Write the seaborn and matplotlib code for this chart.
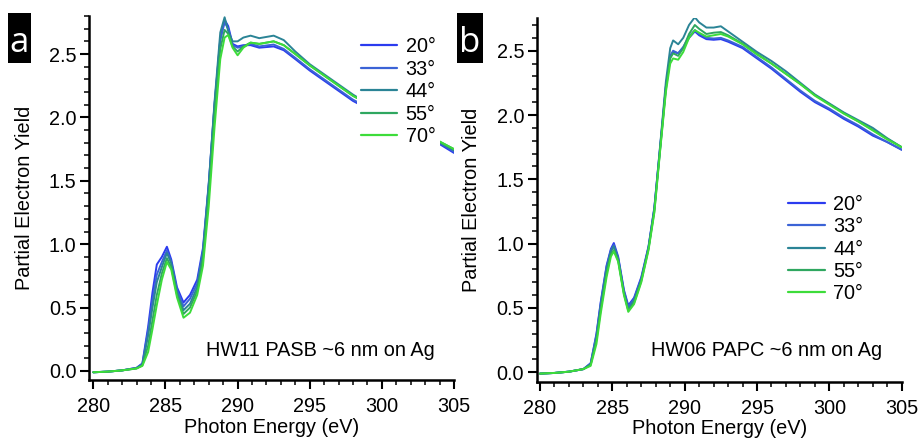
import matplotlib
matplotlib.use("Agg")
import matplotlib.pyplot as plt
import pandas as pd
import seaborn as sns
from matplotlib.patches import Rectangle
from matplotlib.ticker import MultipleLocator, FormatStrFormatter

# Polar angles of the incident beam and the trace colour for each
angles = ["20°", "33°", "44°", "55°", "70°"]
colors = ["#2b3bef", "#3b63d6", "#2b8496", "#2fa760", "#3ddc3a"]

# ---- Panel a: HW11 PASB, C K-edge NEXAFS ----
energy_a = [280, 281, 282, 283, 283.4, 283.8, 284.1, 284.4, 284.75, 285.1,
            285.4, 285.8, 286.25, 286.7, 287.2, 287.6, 288.0, 288.4, 288.8, 289.1,
            289.35, 289.65, 290.0, 290.4, 290.9, 291.5, 292.5, 293.2, 294.0, 295.0,
            296.0, 297.0, 298.0, 299.0, 300.0, 301.0, 302.0, 303.0, 304.0, 305.0]
pasb_20 = [-0.01, -0.005, 0.005, 0.025, 0.06, 0.35, 0.62, 0.84, 0.90, 0.98,
           0.88, 0.66, 0.54, 0.60, 0.72, 0.97, 1.48, 2.10, 2.62, 2.77,
           2.72, 2.58, 2.56, 2.57, 2.57, 2.55, 2.56, 2.53, 2.46, 2.37,
           2.29, 2.21, 2.13, 2.07, 2.02, 1.96, 1.91, 1.85, 1.79, 1.72]
pasb_33 = [-0.01, -0.005, 0.005, 0.025, 0.055, 0.32, 0.56, 0.76, 0.86, 0.95,
           0.86, 0.64, 0.51, 0.57, 0.69, 0.95, 1.46, 2.09, 2.61, 2.75,
           2.70, 2.57, 2.55, 2.56, 2.58, 2.56, 2.575, 2.54, 2.47, 2.38,
           2.30, 2.22, 2.14, 2.08, 2.03, 1.97, 1.92, 1.86, 1.80, 1.73]
pasb_44 = [-0.01, -0.005, 0.005, 0.022, 0.05, 0.28, 0.50, 0.70, 0.82, 0.93,
           0.85, 0.62, 0.48, 0.53, 0.66, 0.93, 1.47, 2.12, 2.67, 2.79,
           2.68, 2.60, 2.60, 2.63, 2.645, 2.625, 2.645, 2.61, 2.52, 2.42,
           2.34, 2.26, 2.18, 2.11, 2.05, 1.99, 1.93, 1.87, 1.80, 1.74]
pasb_55 = [-0.01, -0.005, 0.005, 0.02, 0.045, 0.20, 0.40, 0.60, 0.77, 0.89,
           0.82, 0.60, 0.45, 0.50, 0.63, 0.88, 1.38, 2.01, 2.54, 2.69,
           2.66, 2.56, 2.52, 2.56, 2.59, 2.58, 2.60, 2.57, 2.50, 2.41,
           2.33, 2.25, 2.17, 2.11, 2.05, 1.99, 1.93, 1.87, 1.81, 1.75]
pasb_70 = [-0.01, -0.005, 0.005, 0.02, 0.04, 0.15, 0.33, 0.52, 0.72, 0.86,
           0.80, 0.58, 0.42, 0.46, 0.60, 0.83, 1.30, 1.92, 2.46, 2.63,
           2.65, 2.55, 2.49, 2.55, 2.59, 2.58, 2.60, 2.57, 2.50, 2.41,
           2.33, 2.25, 2.17, 2.11, 2.05, 1.99, 1.93, 1.87, 1.81, 1.75]

# ---- Panel b: HW06 PAPC, C K-edge NEXAFS ----
energy_b = [280, 281, 282, 283, 283.5, 283.9, 284.2, 284.6, 284.9, 285.1,
            285.4, 285.8, 286.1, 286.5, 287.0, 287.5, 287.9, 288.3, 288.7, 289.0,
            289.2, 289.55, 289.9, 290.3, 290.7, 291.0, 291.5, 292.0, 292.5, 293.0,
            294.0, 295.0, 296.0, 297.0, 298.0, 299.0, 300.0, 301.0, 302.0, 303.0,
            304.0, 305.0]
papc_20 = [-0.01, -0.005, 0.005, 0.025, 0.07, 0.30, 0.55, 0.83, 0.96, 1.005,
           0.90, 0.64, 0.52, 0.58, 0.74, 0.98, 1.28, 1.75, 2.22, 2.45,
           2.49, 2.48, 2.52, 2.60, 2.65, 2.62, 2.59, 2.585, 2.59, 2.57,
           2.52, 2.44, 2.36, 2.27, 2.18, 2.10, 2.04, 1.97, 1.91, 1.84,
           1.79, 1.73]
papc_33 = [-0.01, -0.005, 0.005, 0.025, 0.07, 0.29, 0.54, 0.82, 0.95, 0.99,
           0.89, 0.63, 0.51, 0.57, 0.73, 0.97, 1.27, 1.74, 2.22, 2.46,
           2.50, 2.48, 2.53, 2.61, 2.66, 2.63, 2.60, 2.595, 2.60, 2.58,
           2.53, 2.45, 2.37, 2.28, 2.19, 2.11, 2.05, 1.98, 1.92, 1.85,
           1.79, 1.73]
papc_44 = [-0.01, -0.005, 0.005, 0.025, 0.06, 0.27, 0.52, 0.80, 0.94, 0.98,
           0.88, 0.62, 0.49, 0.56, 0.72, 0.97, 1.27, 1.76, 2.26, 2.52,
           2.58, 2.55, 2.60, 2.70, 2.76, 2.72, 2.68, 2.68, 2.69, 2.65,
           2.57, 2.49, 2.42, 2.34, 2.25, 2.16, 2.09, 2.02, 1.96, 1.90,
           1.82, 1.75]
papc_55 = [-0.01, -0.005, 0.005, 0.025, 0.06, 0.25, 0.49, 0.77, 0.92, 0.95,
           0.87, 0.61, 0.48, 0.54, 0.71, 0.96, 1.25, 1.73, 2.20, 2.44,
           2.48, 2.46, 2.52, 2.63, 2.70, 2.67, 2.63, 2.64, 2.645, 2.62,
           2.555, 2.475, 2.40, 2.32, 2.24, 2.155, 2.085, 2.015, 1.95, 1.885,
           1.815, 1.75]
papc_70 = [-0.01, -0.005, 0.005, 0.025, 0.05, 0.22, 0.46, 0.74, 0.90, 0.94,
           0.86, 0.60, 0.47, 0.53, 0.70, 0.95, 1.24, 1.72, 2.18, 2.40,
           2.44, 2.43, 2.49, 2.60, 2.66, 2.64, 2.61, 2.62, 2.63, 2.61,
           2.55, 2.47, 2.40, 2.32, 2.24, 2.15, 2.08, 2.01, 1.95, 1.88,
           1.81, 1.75]


def long_table(energy, series):
    frames = []
    for angle, values in zip(angles, series):
        frames.append(pd.DataFrame({"energy": energy, "pey": values, "angle": angle}))
    return pd.concat(frames, ignore_index=True)


df_a = long_table(energy_a, [pasb_20, pasb_33, pasb_44, pasb_55, pasb_70])
df_b = long_table(energy_b, [papc_20, papc_33, papc_44, papc_55, papc_70])

sns.set_style("ticks")
plt.rcParams["font.family"] = ["Liberation Sans", "DejaVu Sans"]
plt.rcParams["axes.linewidth"] = 1.8
for key in ("text.color", "axes.labelcolor", "xtick.color", "ytick.color", "axes.edgecolor"):
    plt.rcParams[key] = "black"

FS = 14.3
W, H = 919, 438
fig = plt.figure(figsize=(W / 100, H / 100), dpi=100)

panels = [
    dict(df=df_a, rect=(89, 16, 454, 380), xlim=(279.70, 305.0), ylim=(-0.071, 2.80),
         note="HW11 PASB ~6 nm on Ag", note_xy=(303.66, 0.118),
         leg_anchor=(0.733, 0.952), letter="a", box=(8, 13, 31, 63)),
    dict(df=df_b, rect=(536.7, 18.3, 901.7, 381.7), xlim=(279.77, 305.0), ylim=(-0.073, 2.752),
         note="HW06 PAPC ~6 nm on Ag", note_xy=(303.68, 0.127),
         leg_anchor=(0.6775, 0.525), letter="b", box=(457, 13, 483, 63)),
]

for p in panels:
    x0, y0, x1, y1 = p["rect"]
    ax = fig.add_axes([x0 / W, 1 - y1 / H, (x1 - x0) / W, (y1 - y0) / H])
    sns.lineplot(data=p["df"], x="energy", y="pey", hue="angle", hue_order=angles,
                 palette=colors, estimator=None, sort=False, linewidth=1.4, ax=ax)
    ax.set_xlim(*p["xlim"])
    ax.set_ylim(*p["ylim"])
    ax.xaxis.set_major_locator(MultipleLocator(5))
    ax.xaxis.set_minor_locator(MultipleLocator(1))
    ax.yaxis.set_major_locator(MultipleLocator(0.5))
    ax.yaxis.set_minor_locator(MultipleLocator(0.1))
    ax.yaxis.set_major_formatter(FormatStrFormatter("%.1f"))
    ax.tick_params(axis="both", which="major", length=6.5, width=1.5, labelsize=FS)
    ax.tick_params(axis="both", which="minor", length=3.3, width=1.1)
    ax.tick_params(axis="x", which="major", pad=6)
    ax.tick_params(axis="y", which="major", pad=2.5)
    for side in ("top", "right"):
        ax.spines[side].set_visible(False)
    ax.set_xlabel("Photon Energy (eV)", fontsize=FS, labelpad=1)
    ax.set_ylabel("Partial Electron Yield", fontsize=FS, labelpad=11)
    ax.text(*p["note_xy"], p["note"], ha="right", va="baseline", fontsize=FS)
    leg = ax.legend(loc="upper left", bbox_to_anchor=p["leg_anchor"], borderaxespad=0,
                    frameon=True, facecolor="white", edgecolor="none", framealpha=1,
                    fontsize=FS, handlelength=1.85, handletextpad=0.42,
                    labelspacing=0.17, borderpad=0.2, title=None)
    for line in leg.get_lines():
        line.set_linewidth(1.6)

    bx0, by0, bx1, by1 = p["box"]
    fig.add_artist(Rectangle((bx0 / W, 1 - by1 / H), (bx1 - bx0) / W, (by1 - by0) / H,
                             transform=fig.transFigure, facecolor="black", edgecolor="none"))
    fig.text((bx0 + bx1) / 2 / W, 1 - 52 / H, p["letter"], color="white",
             ha="center", va="baseline", fontsize=25, family=["Open Sans", "DejaVu Sans"])

fig.savefig("out.png", dpi=100)
